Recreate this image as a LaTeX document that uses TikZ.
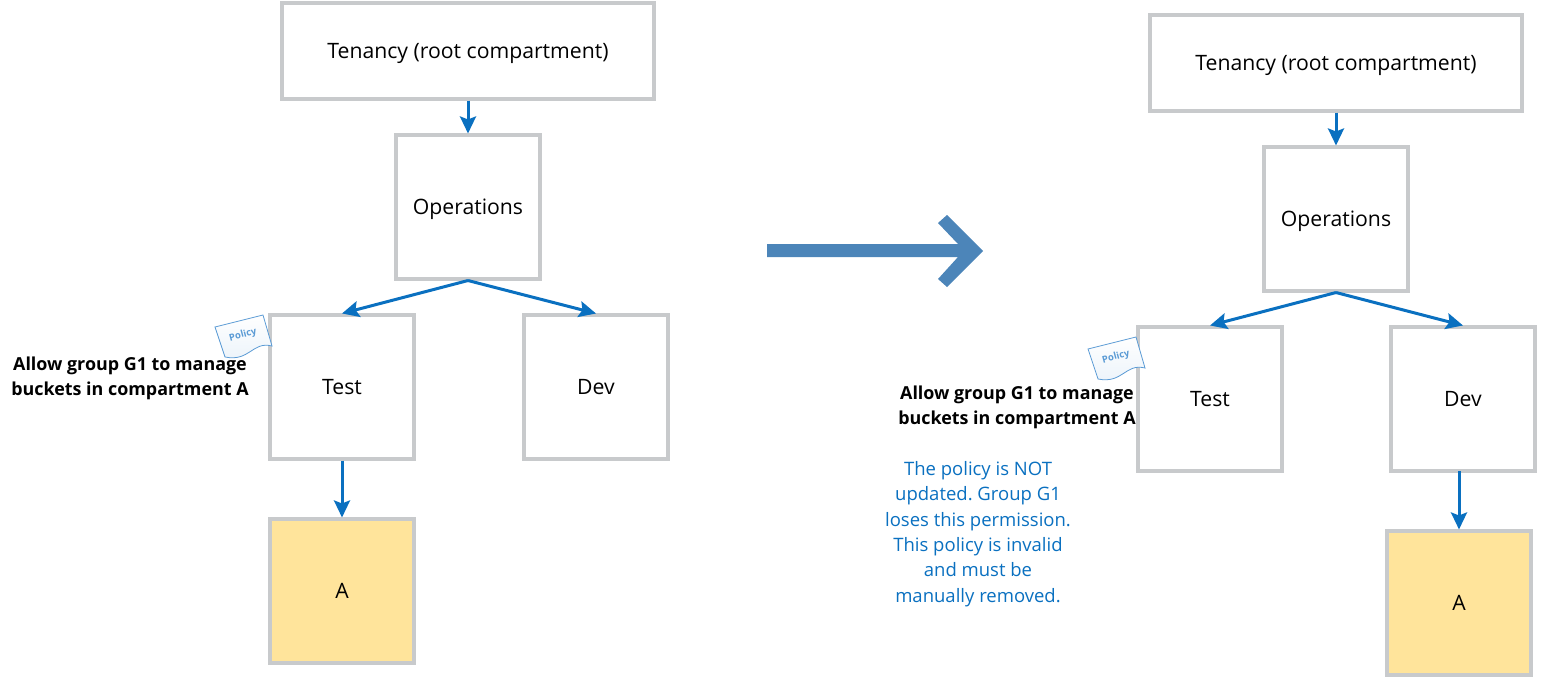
\documentclass[tikz,border=0pt]{standalone}
\usepackage{fontspec}
\setmainfont{Open Sans}
\usetikzlibrary{arrows.meta}
\definecolor{boxline}{HTML}{C8CACC}
\definecolor{linkblue}{HTML}{0A70C0}
\definecolor{bigblue}{HTML}{4C85B9}
\definecolor{sandfill}{HTML}{FFE49B}
\definecolor{policyline}{HTML}{5B9BD5}
\tikzset{
compbox/.style={draw=boxline, line width=3.05pt, inner sep=0pt, minimum width=144pt, minimum height=144pt, text height=16pt, text depth=2pt, font=\fontsize{21.2}{25}\selectfont},
rootbox/.style={compbox, minimum width=372pt, minimum height=96pt},
link/.style={draw=linkblue, line width=3pt, -{Stealth[length=17pt,width=16pt,inset=3pt]}},
policytext/.style={inner sep=0pt, align=center, font=\fontsize{17.9}{25.3}\selectfont\bfseries},
notetext/.style={inner sep=0pt, align=center, text=linkblue, font=\frenchspacing\fontsize{18.5}{25.4}\selectfont},
policyshape/.style={draw=policyline, line width=0.8pt, bottom color=policyline!12, top color=white},
policylabel/.style={inner sep=0pt, rotate=15, text=policyline, font=\fontsize{9.5}{11}\selectfont\bfseries}
}
\begin{document}
\begin{tikzpicture}[x=1pt,y=-1pt]
\useasboundingbox (0,0) rectangle (1542,683);
% left side
\node[rootbox] (root) at (468,51) {Tenancy (root compartment)};
\node[compbox] (ops) at (468,207) {Operations};
\node[compbox] (test) at (342,387) {Test};
\node[compbox] (dev) at (596,387) {Dev};
\node[compbox, fill=sandfill] (a) at (342,591) {A};
\coordinate (fork) at (ops.south);
\path[link] (root) -- (ops);
\path[link] (fork) -- (test.north);
\path[link] (fork) -- (dev.north);
\path[link] (test) -- (a);
\path[policyshape] (215,327) -- (263,315) -- (272,346) .. controls (252,341) and (250,362) .. (225,357) -- cycle;
\node[policylabel] (pol) at (243,335) {Policy};
\node[policytext] (allow) at (130,378.5) {Allow group G1 to manage\\buckets in compartment A};
% big arrow
\path[fill=bigblue] (767,244) -- (958,244) -- (938,223) -- (947,215) -- (983,251) -- (947,287) -- (938,279) -- (958,257) -- (767,257) -- cycle;
% right side
\node[rootbox] (root2) at (1336,63) {Tenancy (root compartment)};
\node[compbox] (ops2) at (1336,219) {Operations};
\node[compbox] (test2) at (1210,399) {Test};
\node[compbox] (dev2) at (1463,399) {Dev};
\node[compbox, fill=sandfill] (a2) at (1459,603) {A};
\coordinate (fork2) at (ops2.south);
\coordinate (devfoot) at (1459,471);
\path[link] (root2) -- (ops2);
\path[link] (fork2) -- (test2.north);
\path[link] (fork2) -- (dev2.north);
\path[link] (devfoot) -- (a2);
\path[policyshape] (1088,349) -- (1136,337) -- (1145,368) .. controls (1125,363) and (1123,384) .. (1098,379) -- cycle;
\node[policylabel] (pol2) at (1116,357) {Policy};
\node[policytext] (allow2) at (1017,407.5) {Allow group G1 to manage\\buckets in compartment A};
\node[notetext] (note) at (978,534) {The policy is NOT\\updated. Group G1\\loses this permission.\\This policy is invalid\\and must be\\manually removed.};
\end{tikzpicture}
\end{document}
